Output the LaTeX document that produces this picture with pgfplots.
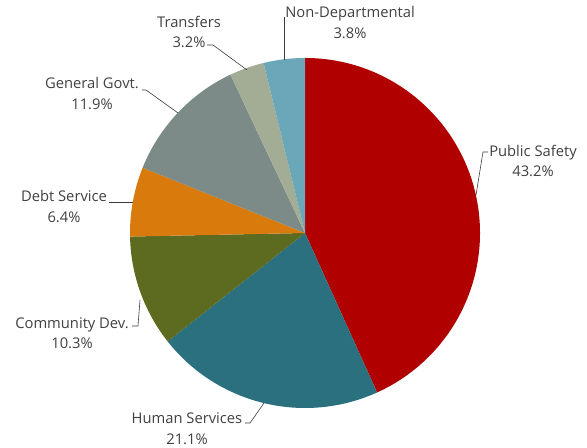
\documentclass[border=0pt]{standalone}
\usepackage{pgfplots}
\usepackage{pgfplotstable}
\pgfplotsset{compat=1.18}
\usepackage{fontspec}
\setmainfont{Open Sans}

\definecolor{cPS}{RGB}{176,0,0}
\definecolor{cHS}{RGB}{42,112,127}
\definecolor{cCD}{RGB}{92,107,31}
\definecolor{cDS}{RGB}{216,122,12}
\definecolor{cGG}{RGB}{124,139,136}
\definecolor{cTR}{RGB}{163,172,149}
\definecolor{cND}{RGB}{106,167,184}
\definecolor{txt}{RGB}{64,64,64}

% share of the budget, clockwise from 12 o'clock
\pgfplotstableread[col sep=comma]{
name,value,color
Public Safety,43.2,cPS
Human Services,21.1,cHS
Community Dev.,10.3,cCD
Debt Service,6.4,cDS
General Govt.,11.9,cGG
Transfers,3.2,cTR
Non-Departmental,3.8,cND
}\piedata

\begin{document}
\begin{tikzpicture}
\begin{axis}[
    x=1bp, y=1bp,
    xmin=-305, xmax=282,
    ymin=-215, ymax=233,
    hide axis,
    clip=false,
]

% keep the whole canvas as bounding box
\path (axis cs:-305,-215) rectangle (axis cs:282,233);

\pgfplotsextra{%
  \pgfplotstablegetrowsof{\piedata}%
  \pgfmathtruncatemacro\lastrow{\pgfplotsretval-1}%
  \gdef\total{0}%
  \foreach \i in {0,...,\lastrow} {%
    \pgfplotstablegetelem{\i}{value}\of{\piedata}%
    \pgfmathsetmacro\tmp{\total+\pgfplotsretval}%
    \xdef\total{\tmp}%
  }%
  \gdef\angstart{90}%
  \foreach \i in {0,...,\lastrow} {%
    \pgfplotstablegetelem{\i}{value}\of{\piedata}\let\val\pgfplotsretval
    \pgfplotstablegetelem{\i}{color}\of{\piedata}\let\col\pgfplotsretval
    \pgfmathsetmacro\angend{\angstart-360*\val/\total}%
    \fill[fill=\col] (axis cs:0,0) -- ++(\angstart:175bp)
      arc[start angle=\angstart, end angle=\angend, radius=175bp] -- cycle;
    \xdef\angstart{\angend}%
  }%
}

% leader lines
\begin{scope}[draw=txt!90!black, line width=0.6pt]
\draw (axis cs:171,38) -- (axis cs:178,81) -- (axis cs:183,81);
\draw (axis cs:-41,-170) -- (axis cs:-55,-190) -- (axis cs:-60,-190);
\draw (axis cs:-165,-67) -- (axis cs:-167,-93) -- (axis cs:-173,-93);
\draw (axis cs:-172,31) -- (axis cs:-196,31);
\draw (axis cs:-127,120) -- (axis cs:-159,143) -- (axis cs:-163,143);
\draw (axis cs:-58,163) -- (axis cs:-92,188) -- (axis cs:-98,188);
\draw (axis cs:-21,173) -- (axis cs:-21,216);
\end{scope}

% labels
\begin{scope}[every node/.style={text=txt, align=center,
    font=\fontsize{14.8}{20.5}\selectfont, inner sep=0pt}]
\node at (axis cs:228,72) {Public Safety\\43.2\%};
\node at (axis cs:-118,-195.5) {Human Services\\21.1\%};
\node at (axis cs:-233,-100) {Community Dev.\\10.3\%};
\node at (axis cs:-241,26.5) {Debt Service\\6.4\%};
\node at (axis cs:-213,139.5) {General Govt.\\11.9\%};
\node at (axis cs:-116,201) {Transfers\\3.2\%};
\node at (axis cs:45,210.5) {Non-Departmental\\3.8\%};
\end{scope}

\end{axis}
\end{tikzpicture}
\end{document}
